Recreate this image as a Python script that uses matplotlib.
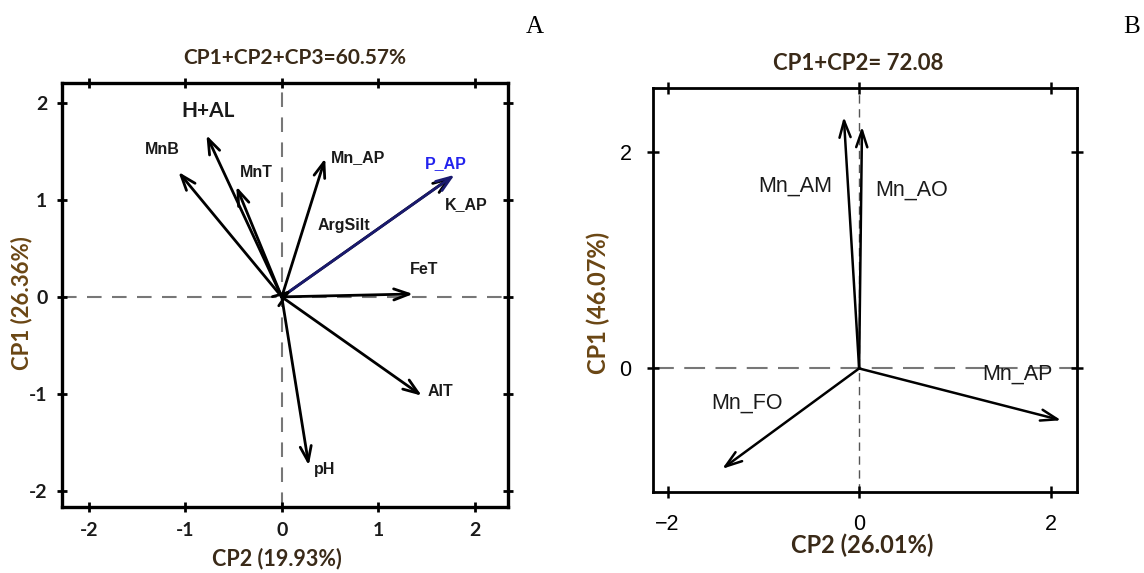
import matplotlib
matplotlib.use("Agg")
import matplotlib.pyplot as plt

# --- A: loadings on CP2 (x) / CP1 (y) ---
a_names = ["MnB", "H+AL", "MnT", "Mn_AP", "K_AP", "P_AP", "ArgSilt", "FeT", "AlT", "pH"]
a_x = [-1.07, -0.78, -0.47, 0.45, 1.76, 1.79, 0.10, 1.36, 1.45, 0.28]
a_y = [1.29, 1.67, 1.14, 1.43, 1.24, 1.26, 0.07, 0.03, -1.02, -1.74]
a_lab_x = [-1.24, -0.76, -0.26, 0.79, 1.91, 1.70, 0.64, 1.47, 1.64, 0.44]
a_lab_y = [1.52, 1.92, 1.28, 1.44, 0.95, 1.38, 0.74, 0.28, -0.98, -1.78]
a_ticks = [-2, -1, 0, 1, 2]
a_ticklabels = ["-2", "-1", "0", "1", "2"]

# --- B: manganese fractions ---
b_names = ["Mn_AM", "Mn_AO", "Mn_AP", "Mn_FO"]
b_x = [-0.16, 0.03, 2.11, -1.43]
b_y = [2.33, 2.24, -0.48, -0.93]
b_lab_x = [-0.67, 0.55, 1.65, -1.17]
b_lab_y = [1.69, 1.65, -0.05, -0.32]
b_ticks = [-2, 0, 2]
b_yticks = [0, 2]

title_font = "Lato"
lab_col = "#3a2a18"
ylab_col = "#6a4614"

fig = plt.figure(figsize=(11.44, 5.73), dpi=100)

# ---------- panel A ----------
axA = fig.add_axes([0.0542, 0.115, 0.390, 0.740])
axA.set_xlim(-2.276, 2.345)
axA.set_ylim(-2.17, 2.207)
axA.axhline(0, color="#777777", lw=1.5, ls=(0, (7, 5)), zorder=1)
axA.axvline(0, color="#777777", lw=1.5, ls=(0, (7, 5)), zorder=1)

for name, x, y, lx, ly in zip(a_names, a_x, a_y, a_lab_x, a_lab_y):
    col = "#1a1a6e" if name == "P_AP" else "black"
    axA.annotate("", xy=(x, y), xytext=(0, 0),
                 arrowprops=dict(arrowstyle="->,head_length=1.1,head_width=0.4",
                                 lw=2.0, color=col, shrinkA=0, shrinkB=0),
                 zorder=3)
    if name == "H+AL":
        axA.text(lx, ly, name, fontsize=15, fontweight="bold", family=title_font,
                 color="#1a1a1a", ha="center", va="center")
    else:
        tcol = "#2222ee" if name == "P_AP" else "#1a1a1a"
        axA.text(lx, ly, name, fontsize=11.5, fontweight="bold", family="Liberation Sans",
                 color=tcol, ha="center", va="center")

axA.set_xticks(a_ticks)
axA.set_yticks(a_ticks)
axA.set_xticklabels(a_ticklabels)
axA.set_yticklabels(a_ticklabels)
axA.tick_params(direction="inout", length=7, width=2, top=True, right=True,
                labelsize=14, pad=7)
for t in axA.get_xticklabels() + axA.get_yticklabels():
    t.set_fontweight("bold")
    t.set_family(title_font)
    t.set_color("#1a1a1a")
for s in axA.spines.values():
    s.set_linewidth(2.4)

fig.text(0.258, 0.899, "CP1+CP2+CP3=60.57%", fontsize=15, fontweight="bold",
         family=title_font, color=lab_col, ha="center", va="center")
fig.text(0.242, 0.026, "CP2 (19.93%)", fontsize=15.5, fontweight="bold",
         family=title_font, color=lab_col, ha="center", va="center")
fig.text(0.019, 0.471, "CP1 (26.36%)", fontsize=16, fontweight="bold",
         family=title_font, color=ylab_col, ha="center", va="center", rotation=90)

# ---------- panel B ----------
axB = fig.add_axes([0.571, 0.1414, 0.3706, 0.705])
axB.set_xlim(-2.15, 2.277)
axB.set_ylim(-1.144, 2.597)
axB.axhline(0, color="#777777", lw=1.5, ls=(0, (10, 5)), zorder=1)
axB.axvline(0, color="#555555", lw=1.0, ls=(0, (6, 4)), zorder=1)

for name, x, y, lx, ly in zip(b_names, b_x, b_y, b_lab_x, b_lab_y):
    axB.annotate("", xy=(x, y), xytext=(0, 0),
                 arrowprops=dict(arrowstyle="->,head_length=1.2,head_width=0.4",
                                 lw=1.8, color="black", shrinkA=0, shrinkB=0),
                 zorder=3)
    axB.text(lx, ly, name, fontsize=15.5, family="Liberation Sans",
             color="#1a1a1a", ha="center", va="center")

axB.set_xticks(b_ticks)
axB.set_yticks(b_yticks)
axB.set_xticklabels(["\u22122", "0", "2"])
axB.tick_params(direction="inout", length=9, width=1.8, top=True, right=True,
                labelsize=15.5, pad=11)
for t in axB.get_xticklabels() + axB.get_yticklabels():
    t.set_family("Liberation Sans")
    t.set_color("black")
for s in axB.spines.values():
    s.set_linewidth(2.0)

fig.text(0.75, 0.89, "CP1+CP2= 72.08", fontsize=16, fontweight="bold",
         family=title_font, color=lab_col, ha="center", va="center")
fig.text(0.7535, 0.049, "CP2 (26.01%)", fontsize=17, fontweight="bold",
         family=title_font, color=lab_col, ha="center", va="center")
fig.text(0.523, 0.471, "CP1 (46.07%)", fontsize=17, fontweight="bold",
         family=title_font, color=ylab_col, ha="center", va="center", rotation=90)

# panel letters
fig.text(535 / 1144, 1 - 27 / 573, "A", fontsize=18, family="Liberation Serif",
         ha="center", va="center")
fig.text(1132 / 1144, 1 - 27 / 573, "B", fontsize=18, family="Liberation Serif",
         ha="center", va="center")

fig.savefig("out.png", dpi=100, facecolor="white")
